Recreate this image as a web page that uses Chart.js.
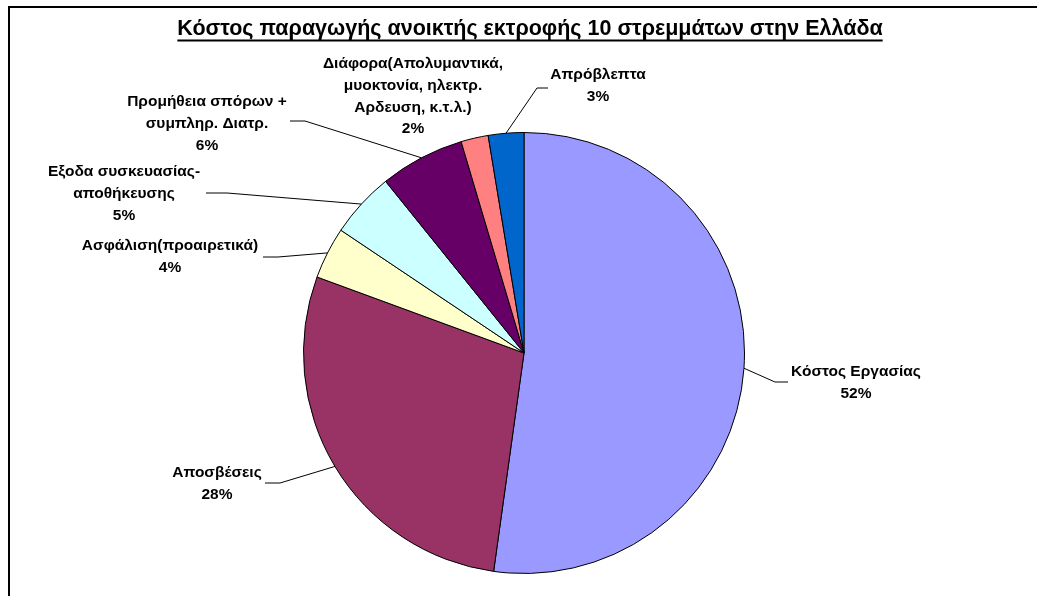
<!DOCTYPE html>
<html><head><meta charset="utf-8">
<script src="https://cdn.jsdelivr.net/npm/chart.js@4"></script>
<style>html,body{margin:0;padding:0;background:#fff;overflow:hidden}</style>
</head><body>
<div style="position:relative;width:1037px;height:596px"><canvas id="c" width="1037" height="596"></canvas></div>
<script>
const chartTitle = "Κόστος παραγωγής ανοικτής εκτροφής 10 στρεμμάτων στην Ελλάδα";
const categories = ["Κόστος Εργασίας","Αποσβέσεις","Ασφάλιση(προαιρετικά)","Εξοδα συσκευασίας-αποθήκευσης","Προμήθεια σπόρων + συμπληρ. Διατρ.","Διάφορα(Απολυμαντικά, μυοκτονία, ηλεκτρ. Αρδευση, κ.τ.λ.)","Απρόβλεπτα"];
const labelLines = [["Κόστος Εργασίας"],["Αποσβέσεις"],["Ασφάλιση(προαιρετικά)"],["Εξοδα συσκευασίας-","αποθήκευσης"],["Προμήθεια σπόρων +","συμπληρ. Διατρ."],["Διάφορα(Απολυμαντικά,","μυοκτονία, ηλεκτρ.","Αρδευση, κ.τ.λ.)"],["Απρόβλεπτα"]];
const values = [52.2, 28.4, 3.8, 4.8, 6.2, 2.0, 2.6];
const colors = ["#9999FF","#993366","#FFFFCC","#CCFFFF","#660066","#FF8080","#0066CC"];
// label block centre x and first-line y; leader elbow and end points
const labelPos = [[856,372],[217,473],[170,246],[124,172],[207,102],[413,64],[598,75]];
const leaderElbow = [[775,382],[280,483],[278,257],[227,193],[305,121],null,[537,88]];
const leaderEnd = [[788,382],[265,483],[263,257],[206,193],[290,121],null,[548,88]];

const FONT = '"Liberation Sans", Arial, sans-serif';
const total = values.reduce((a,b)=>a+b,0);

const annot = {
  id:'annot',
  afterDraw(chart){
    const ctx = chart.ctx;
    ctx.save();
    // outer frame
    ctx.strokeStyle = '#000';
    ctx.lineWidth = 2;
    ctx.beginPath();
    ctx.moveTo(9, 700); ctx.lineTo(9, 7); ctx.lineTo(1100, 7);
    ctx.stroke();
    // title
    ctx.fillStyle = '#000';
    ctx.font = 'bold 21.5px ' + FONT;
    ctx.textAlign = 'center';
    ctx.textBaseline = 'middle';
    const tx = 530, ty = 29;
    ctx.fillText(chartTitle, tx, ty);
    const tw = ctx.measureText(chartTitle).width;
    ctx.fillRect(tx - tw/2, 39.5, tw, 2);
    // labels
    const meta = chart.getDatasetMeta(0);
    ctx.font = 'bold 15.5px ' + FONT;
    meta.data.forEach((arc, i) => {
      const p = arc.getProps(['x','y','startAngle','endAngle','outerRadius'], true);
      const mid = (p.startAngle + p.endAngle)/2;
      const sx = p.x + Math.cos(mid)*p.outerRadius;
      const sy = p.y + Math.sin(mid)*p.outerRadius;
      if (leaderElbow[i]) {
        ctx.strokeStyle = '#000';
        ctx.lineWidth = 1;
        ctx.beginPath();
        ctx.moveTo(sx, sy);
        ctx.lineTo(leaderElbow[i][0], leaderElbow[i][1]);
        ctx.lineTo(leaderEnd[i][0], leaderEnd[i][1]);
        ctx.stroke();
      }
      const lines = labelLines[i].concat([Math.round(values[i]/total*100) + '%']);
      const [lx, ly] = labelPos[i];
      lines.forEach((t, k) => ctx.fillText(t, lx, ly + k*21.7));
    });
    ctx.restore();
  }
};

new Chart(document.getElementById('c'), {
  type: 'pie',
  data: { labels: categories, datasets: [{ data: values, backgroundColor: colors, borderColor: '#000', borderWidth: 1 }] },
  options: {
    responsive: false,
    animation: false,
    layout: { padding: { top: 132, bottom: 22, left: 11, right: 0 } },
    plugins: { legend: { display: false }, tooltip: { enabled: false }, title: { display: false } }
  },
  plugins: [annot]
});
</script>
</body></html>
